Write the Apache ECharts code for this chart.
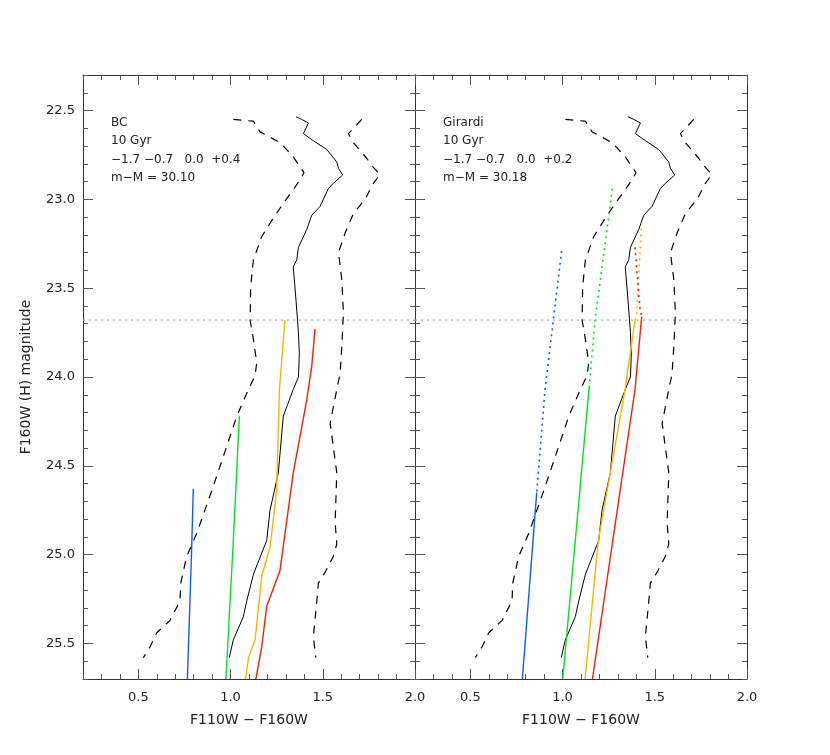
<!DOCTYPE html>
<html><head><meta charset="utf-8">
<script src="https://cdn.jsdelivr.net/npm/echarts@6/dist/echarts.min.js"></script>
<style>html,body{margin:0;background:#fff}#c{width:830px;height:755px}</style>
</head><body><div id="c"></div>
<script>
// Data: [color, magnitude]
const ridgeLine = [[1.355,22.535],[1.386,22.55],[1.422,22.57],[1.395,22.63],[1.449,22.67],[1.522,22.72],[1.576,22.79],[1.585,22.825],[1.608,22.863],[1.557,22.91],[1.53,22.94],[1.485,23.04],[1.44,23.09],[1.413,23.17],[1.368,23.27],[1.359,23.34],[1.34,23.38],[1.355,23.57],[1.368,23.75],[1.373,23.87],[1.368,24.0],[1.34,24.07],[1.286,24.22],[1.259,24.54],[1.214,24.75],[1.196,24.92],[1.124,25.11],[1.088,25.26],[1.069,25.35],[1.015,25.48],[0.993,25.58]];
const blueEdge = [[1.015,22.55],[1.124,22.56],[1.16,22.62],[1.268,22.68],[1.34,22.76],[1.398,22.85],[1.377,22.89],[1.323,22.97],[1.268,23.05],[1.223,23.12],[1.169,23.21],[1.124,23.34],[1.109,23.49],[1.106,23.68],[1.124,23.79],[1.142,23.92],[1.133,23.99],[1.097,24.07],[1.034,24.22],[0.96,24.45],[0.898,24.64],[0.817,24.88],[0.762,25.01],[0.73,25.16],[0.726,25.26],[0.672,25.37],[0.6,25.44],[0.563,25.52],[0.527,25.58]];
const redEdge = [[1.711,22.55],[1.684,22.58],[1.639,22.63],[1.666,22.68],[1.739,22.77],[1.774,22.82],[1.81,22.86],[1.774,22.91],[1.729,23.0],[1.666,23.08],[1.621,23.19],[1.585,23.3],[1.603,23.45],[1.612,23.64],[1.603,23.83],[1.594,23.98],[1.576,24.07],[1.54,24.26],[1.576,24.54],[1.567,24.82],[1.576,24.94],[1.557,25.01],[1.512,25.1],[1.476,25.16],[1.467,25.27],[1.449,25.46],[1.462,25.58]];
const trgbMag = 23.68;
// BC isochrones
const bcBlue = [[0.798,24.63],[0.789,24.97],[0.766,25.70]];
const bcGreen = [[1.048,24.22],[1.015,24.92],[0.975,25.70]];
const bcOrange = [[1.295,23.68],[1.265,24.07],[1.25,24.64],[1.214,24.96],[1.169,25.12],[1.133,25.48],[1.097,25.58],[1.082,25.70]];
const bcRed = [[1.458,23.73],[1.44,23.94],[1.413,24.13],[1.34,24.54],[1.268,25.09],[1.196,25.29],[1.169,25.52],[1.137,25.70]];
// Girardi isochrones (solid + dotted extension above TRGB)
const gBlueDot = [[0.995,23.29],[0.95,23.68],[0.905,24.07],[0.86,24.65]];
const gBlue = [[0.86,24.65],[0.782,25.70]];
const gGreenDot = [[1.27,22.94],[1.176,23.68],[1.145,24.05]];
const gGreen = [[1.145,24.05],[1.001,25.70]];
const gOrangeDot = [[1.429,23.13],[1.402,23.64],[1.393,23.68]];
const gOrange = [[1.393,23.68],[1.339,24.07],[1.194,24.92],[1.122,25.70]];
const gRedDot = [[1.393,23.27],[1.42,23.62],[1.429,23.66]];
const gRed = [[1.429,23.66],[1.393,24.07],[1.162,25.70]];
const xMajor = [0.5,1.0,1.5,2.0];
const yMajor = [22.5,23.0,23.5,24.0,24.5,25.0,25.5];
const labelsBC = ['BC','10 Gyr','\u22121.7 \u22120.7   0.0  +0.4','m\u2212M = 30.10'];
const labelsG = ['Girardi','10 Gyr','\u22121.7 \u22120.7   0.0  +0.2','m\u2212M = 30.18'];

const C = {blue:'#0a5cff', green:'#00e51a', orange:'#ffb300', red:'#ff1a00'};
const FONT = 'DejaVu Sans';
const chart = echarts.init(document.getElementById('c'));
const grids = [{left:83,top:75,width:332,height:604},{left:415,top:75,width:332,height:604}];
const xAxes=[], yAxes=[];
const lineCol = '#333';
grids.forEach((g,gi)=>{
  ['bottom','top'].forEach(pos=>{
    xAxes.push({type:'value',gridIndex:gi,position:pos,min:0.2,max:2.0,interval:0.1,
      axisLine:{show:true,onZero:false,lineStyle:{color:lineCol}},splitLine:{show:false},
      axisTick:{inside:true,length:5,lineStyle:{color:'#555'}},axisLabel:{show:false}});
    xAxes.push({type:'value',gridIndex:gi,position:pos,min:0.2,max:2.0,interval:0.1,
      axisLine:{show:false,onZero:false},splitLine:{show:false},
      axisTick:{inside:true,length:10,customValues:xMajor,lineStyle:{color:'#555'}},
      axisLabel:{show:pos==='bottom',customValues:xMajor,formatter:v=>v.toFixed(1),
        margin:12,fontFamily:FONT,fontSize:13,color:'#222'},
      name:pos==='bottom'?'F110W \u2212 F160W':'',nameLocation:'middle',nameGap:34,
      nameTextStyle:{fontFamily:FONT,fontSize:14,color:'#222'}});
  });
  ['left','right'].forEach(pos=>{
    yAxes.push({type:'value',gridIndex:gi,position:pos,inverse:true,min:22.3,max:25.7,interval:0.1,
      axisLine:{show:true,onZero:false,lineStyle:{color:lineCol}},splitLine:{show:false},
      axisTick:{inside:true,length:5,lineStyle:{color:'#555'}},axisLabel:{show:false}});
    const showLab = gi===0 && pos==='left';
    yAxes.push({type:'value',gridIndex:gi,position:pos,inverse:true,min:22.3,max:25.7,interval:0.1,
      axisLine:{show:false,onZero:false},splitLine:{show:false},
      axisTick:{inside:true,length:10,customValues:yMajor,lineStyle:{color:'#555'}},
      axisLabel:{show:showLab,customValues:yMajor,formatter:v=>v.toFixed(1),margin:8,
        fontFamily:FONT,fontSize:13,color:'#222'},
      name:showLab?'F160W (H) magnitude':'',nameLocation:'middle',nameGap:50,nameRotate:90,
      nameTextStyle:{fontFamily:FONT,fontSize:14,color:'#222'}});
  });
});
const series=[];
function add(gi,data,color,type,width){
  series.push({type:'line',xAxisIndex:gi*4,yAxisIndex:gi*4,data:data,showSymbol:false,silent:true,
    lineStyle:{color:color,width:width||1,type:type||'solid'},z:type==='dotted'?2:3});
}
[0,1].forEach(gi=>{
  add(gi,[[0.2,trgbMag],[2.0,trgbMag]],'#aaa',[2,4],1.2);
  add(gi,ridgeLine,'#000','solid',1);
  add(gi,blueEdge,'#000',[8,7],1.2);
  add(gi,redEdge,'#000',[8,7],1.2);
});
add(0,bcBlue,C.blue,'solid',1.4);add(0,bcGreen,C.green,'solid',1.4);
add(0,bcOrange,C.orange,'solid',1.4);add(0,bcRed,C.red,'solid',1.4);
add(1,gBlueDot,C.blue,[2,4],1.6);add(1,gBlue,C.blue,'solid',1.4);
add(1,gGreenDot,C.green,[2,4],1.6);add(1,gGreen,C.green,'solid',1.4);
add(1,gOrangeDot,C.orange,[2,4],1.6);add(1,gOrange,C.orange,'solid',1.4);
add(1,gRedDot,C.red,[2,4],1.6);add(1,gRed,C.red,'solid',1.4);
const graphic=[];
[[labelsBC,111],[labelsG,443]].forEach(([arr,x])=>{
  arr.forEach((t,i)=>graphic.push({type:'text',left:x,top:117+i*18.3,
    style:{text:t,fontFamily:FONT,fontSize:12,fill:'#222'}}));
});
chart.setOption({animation:false,backgroundColor:'#fff',grid:grids,xAxis:xAxes,yAxis:yAxes,series,graphic});
</script></body></html>
